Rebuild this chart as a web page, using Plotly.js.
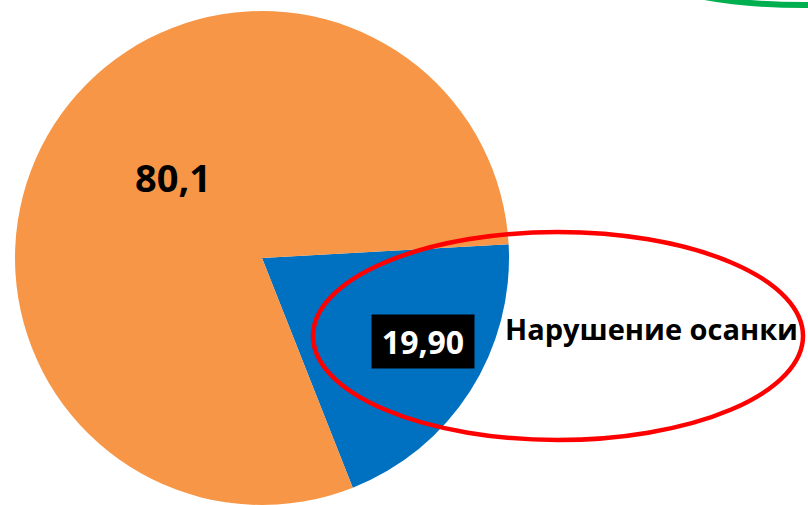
<!DOCTYPE html>
<html>
<head>
<meta charset="utf-8">
<script src="https://cdn.plot.ly/plotly-3.0.1.min.js"></script>
<style>html,body{margin:0;padding:0;background:#fff;}#chart{width:808px;height:505px;}</style>
</head>
<body>
<div id="chart"></div>
<script>
var labels = ["Нарушение осанки", "Другое"];
var values = [19.90, 80.1];
var valueTexts = ["19,90", "80,1"];
var colors = ["#0070C0", "#F79646"];

var trace = {
  type: "pie",
  labels: labels,
  values: values,
  sort: false,
  direction: "clockwise",
  rotation: 86.8,
  marker: {colors: colors, line: {width: 0}},
  textinfo: "none",
  hoverinfo: "none",
  showlegend: false,
  domain: {x: [15/808, 509/808], y: [0, 1 - 11/505]}
};

var layout = {
  width: 808, height: 505,
  margin: {l: 0, r: 0, t: 0, b: 0},
  paper_bgcolor: "#ffffff",
  showlegend: false,
  shapes: [
    {type: "circle", xref: "paper", yref: "paper",
     x0: 313/808, x1: 803/808, y0: 1 - 440/505, y1: 1 - 232/505,
     line: {color: "#FF0000", width: 4.5}, fillcolor: "rgba(0,0,0,0)"},
    {type: "circle", xref: "paper", yref: "paper",
     x0: 648/808, x1: 960/808, y0: 1 - 5/505, y1: 1 + 65/505,
     line: {color: "#00B050", width: 6}, fillcolor: "rgba(0,0,0,0)"}
  ],
  annotations: [
    {xref: "paper", yref: "paper", x: 173/808, y: 1 - 177/505,
     xanchor: "center", yanchor: "middle",
     text: "<b>" + valueTexts[1] + "</b>", showarrow: false,
     font: {family: "Open Sans", size: 38, color: "#000000"}},
    {xref: "paper", yref: "paper", x: 423/808, y: 1 - 341.5/505,
     xanchor: "center", yanchor: "middle",
     text: "<b>" + valueTexts[0] + "</b>", showarrow: false,
     bgcolor: "#000000", width: 100, height: 51, borderpad: 1,
     font: {family: "Open Sans", size: 32, color: "#ffffff"}},
    {xref: "paper", yref: "paper", x: 503/808, y: 1 - 328/505,
     xanchor: "left", yanchor: "middle", text: "<b>" + labels[0] + "</b>", showarrow: false,
     font: {family: "Open Sans", size: 29, color: "#000000"}}
  ]
};

Plotly.newPlot("chart", [trace], layout, {displayModeBar: false, staticPlot: true});
</script>
</body>
</html>
